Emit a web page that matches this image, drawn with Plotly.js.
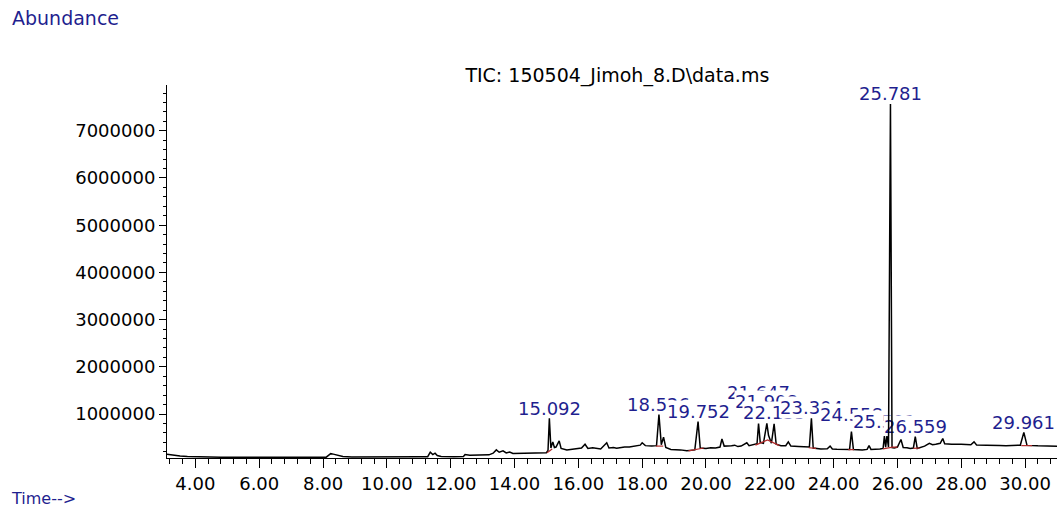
<!DOCTYPE html>
<html>
<head>
<meta charset="utf-8">
<script src="https://cdn.plot.ly/plotly-3.0.1.min.js"></script>
<style>
  html, body { margin: 0; padding: 0; background: #ffffff; }
  #chart { width: 1057px; height: 510px; }
</style>
</head>
<body>
<div id="chart"></div>
<script>
// Retention time (min) of the TIC samples
const times = [
  3.11, 3.30, 3.52, 3.75, 3.93, 4.30, 4.80, 5.50, 6.50, 7.50,
  8.10, 8.18, 8.24, 8.32, 8.45, 8.62, 8.90, 9.50, 10.50, 11.00,
  11.28, 11.36, 11.44, 11.51, 11.58, 11.70, 12.10, 12.40, 12.45, 12.60,
  12.90, 13.20, 13.33, 13.43, 13.52, 13.64, 13.74, 13.85, 13.95, 14.16,
  14.50, 14.80, 15.00, 15.05, 15.092, 15.14, 15.20, 15.25, 15.30, 15.40,
  15.46, 15.64, 15.90, 16.10, 16.21, 16.30, 16.45, 16.70, 16.89, 16.96,
  17.10, 17.20, 17.45, 17.60, 17.94, 18.00, 18.10, 18.30, 18.45, 18.526,
  18.60, 18.67, 18.74, 18.90, 19.20, 19.40, 19.65, 19.752, 19.82, 20.00,
  20.15, 20.30, 20.44, 20.50, 20.57, 20.65, 20.80, 20.90, 21.00, 21.10,
  21.28, 21.35, 21.50, 21.60, 21.647, 21.70, 21.80, 21.908, 21.96, 22.05,
  22.135, 22.20, 22.35, 22.50, 22.58, 22.66, 22.90, 23.10, 23.24, 23.304,
  23.36, 23.60, 23.70, 23.80, 23.89, 23.96, 24.10, 24.30, 24.50, 24.558,
  24.62, 24.90, 25.05, 25.11, 25.17, 25.45, 25.55, 25.591, 25.63, 25.67,
  25.72, 25.781, 25.83, 25.90, 26.00, 26.11, 26.18, 26.30, 26.40, 26.50,
  26.559, 26.62, 26.75, 26.85, 27.00, 27.10, 27.20, 27.34, 27.42, 27.48,
  27.70, 27.90, 28.00, 28.15, 28.30, 28.40, 28.48, 28.80, 29.00, 29.20,
  29.40, 29.60, 29.85, 29.961, 30.06, 30.40, 30.80, 31.00
];

// Abundance of the TIC samples
const abundance = [
  150000, 125000, 110000, 100000, 95000, 88000, 86000, 85000, 85000, 85000,
  86000, 130000, 160000, 150000, 125000, 100000, 88000, 85000, 87000, 92000,
  96000, 190000, 140000, 170000, 120000, 100000, 97000, 100000, 140000, 128000,
  130000, 135000, 170000, 240000, 190000, 220000, 175000, 195000, 165000, 170000,
  172000, 175000, 180000, 230000, 910000, 280000, 410000, 290000, 300000, 430000,
  270000, 240000, 260000, 280000, 360000, 270000, 285000, 260000, 390000, 280000,
  290000, 275000, 300000, 300000, 340000, 390000, 330000, 320000, 330000, 990000,
  350000, 510000, 290000, 250000, 240000, 220000, 240000, 840000, 280000, 270000,
  285000, 280000, 300000, 470000, 320000, 320000, 330000, 340000, 310000, 320000,
  390000, 330000, 360000, 370000, 800000, 400000, 380000, 800000, 550000, 380000,
  790000, 360000, 330000, 330000, 410000, 320000, 310000, 310000, 300000, 910000,
  280000, 260000, 270000, 265000, 320000, 260000, 255000, 260000, 250000, 630000,
  250000, 240000, 250000, 330000, 250000, 260000, 270000, 530000, 300000, 530000,
  300000, 7570000, 290000, 280000, 300000, 460000, 290000, 285000, 270000, 280000,
  520000, 270000, 290000, 320000, 380000, 350000, 360000, 380000, 480000, 370000,
  360000, 370000, 360000, 355000, 350000, 410000, 345000, 340000, 345000, 335000,
  330000, 330000, 340000, 610000, 335000, 325000, 320000, 318000
];

// Integration baselines (red segments), null separates segments
const baselineTimes = [
  15.02, 15.18, null,
  18.43, 18.66, null,
  19.45, 19.93, null,
  21.55, 21.93, 22.30, null,
  23.22, 23.45, null,
  24.46, 24.64, null,
  25.55, 25.85, 26.00, null,
  26.50, 26.70, null,
  29.88, 30.22
];
const baselineValues = [
  180000, 260000, null,
  320000, 320000, null,
  220000, 280000, null,
  340000, 450000, 330000, null,
  285000, 270000, null,
  245000, 245000, null,
  260000, 300000, 300000, null,
  270000, 280000, null,
  330000, 330000
];

// Labelled peaks (retention times as printed)
const peakTimes  = [15.092, 18.526, 19.752, 21.647, 21.908, 22.135, 23.304, 24.558, 25.591, 26.559, 25.781, 29.961];
const peakLabels = ['15.092', '18.526', '19.752', '21.647', '21.908', '22.135', '23.304', '24.558', '25.591', '26.559', '25.781', '29.961'];

// Axis tick settings
const xTickStep = 2;
const yTickStep = 1000000;

// ----- build the figure -----
const labelShift = [10, 10, 10, 31, 22, 11.5, 11, 17, 15, 10, 10, 10];
function apexOf(t) {
  let best = 0;
  for (let i = 0; i < times.length; i++) {
    if (Math.abs(times[i] - t) < Math.abs(times[best] - t)) best = i;
  }
  return abundance[best];
}
const blue = '#1f1f8f';
const font = 'DejaVu Sans, Arial, sans-serif';

const peakAnnotations = peakTimes.map((t, i) => ({
  x: t, y: apexOf(t), xref: 'x', yref: 'y',
  text: peakLabels[i], showarrow: false,
  xanchor: 'center', yanchor: 'middle', yshift: labelShift[i],
  bgcolor: 'white', borderpad: 0,
  font: { family: font, size: 18, color: blue }
}));

const traces = [
  {
    x: times, y: abundance, type: 'scatter', mode: 'lines',
    line: { color: 'black', width: 1.5 }, hoverinfo: 'none'
  },
  {
    x: baselineTimes, y: baselineValues, type: 'scatter', mode: 'lines',
    line: { color: '#b22a2a', width: 1.2 }, connectgaps: false, hoverinfo: 'none'
  }
];

const layout = {
  width: 1057, height: 510,
  margin: { l: 167, r: 0, t: 85, b: 52, pad: 0 },
  paper_bgcolor: 'white', plot_bgcolor: 'white',
  showlegend: false,
  font: { family: font, size: 18, color: 'black' },
  title: {
    text: 'TIC: 150504_Jimoh_8.D\\data.ms',
    x: 0.506, xref: 'paper', xanchor: 'center',
    y: 0.853, yref: 'container', yanchor: 'middle',
    font: { family: font, size: 19, color: 'black' }
  },
  xaxis: {
    range: [3.11, 31.0],
    showline: true, linecolor: 'black', linewidth: 1,
    ticks: 'outside', ticklen: 9, tickwidth: 1, tickcolor: 'black',
    tick0: 0, dtick: xTickStep, tickformat: '.2f',
    showgrid: false, zeroline: false,
    minor: { tick0: 0, dtick: 0.4, ticks: 'outside', ticklen: 5, tickwidth: 1, tickcolor: 'black', showgrid: false },
    tickfont: { family: font, size: 18, color: 'black' }
  },
  yaxis: {
    range: [68000, 7970000],
    showline: true, linecolor: 'black', linewidth: 1,
    ticks: 'outside', ticklen: 7, tickwidth: 1, tickcolor: 'black',
    tick0: 0, dtick: yTickStep, tickformat: 'd',
    showgrid: false, zeroline: false,
    minor: { tick0: 0, dtick: 200000, ticks: 'outside', ticklen: 3, tickwidth: 1, tickcolor: 'black', showgrid: false },
    tickfont: { family: font, size: 18, color: 'black' }
  },
  annotations: [
    {
      text: 'Abundance', xref: 'paper', yref: 'paper',
      x: -0.1764, y: 1.18, xanchor: 'left', yanchor: 'middle',
      showarrow: false, font: { family: font, size: 19, color: blue }
    },
    {
      text: 'Time-->', xref: 'paper', yref: 'paper',
      x: -0.1764, y: -0.1367, xanchor: 'left', yanchor: 'bottom',
      showarrow: false, borderpad: 0, font: { family: font, size: 16, color: blue }
    }
  ].concat(peakAnnotations)
};

const gd = document.getElementById('chart');
Plotly.newPlot(gd, traces, layout, { displayModeBar: false, staticPlot: true }).then(() => {
  // draw the signal over the label boxes, as in the instrument printout
  const info = gd.querySelector('.infolayer');
  const cart = gd.querySelector('.cartesianlayer');
  if (info && cart && cart.parentNode) cart.parentNode.insertBefore(info, cart);
});
</script>
</body>
</html>
